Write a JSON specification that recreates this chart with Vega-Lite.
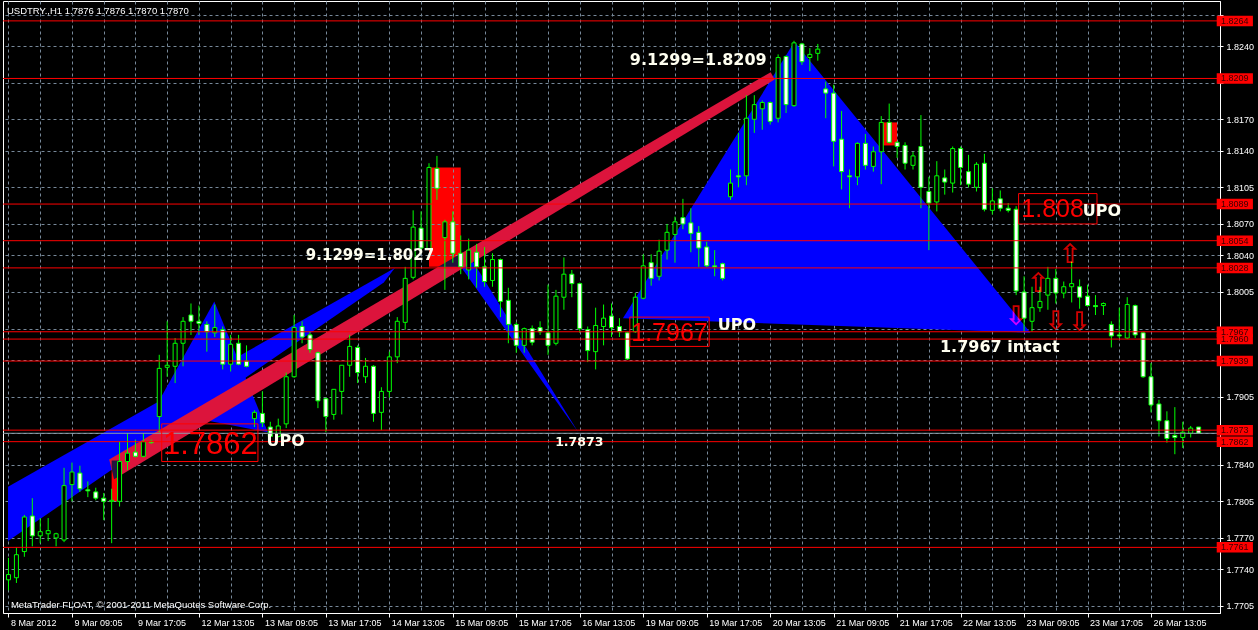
{
  "$schema": "https://vega.github.io/schema/vega-lite/v6.json",
  "width": 1217,
  "height": 612,
  "autosize": {"type": "none"},
  "padding": {"left": 3, "top": 1, "right": 38, "bottom": 17},
  "background": "black",
  "title": {"text": "USDTRY.,H1  1.7876 1.7876 1.7870 1.7870", "anchor": "start", "frame": "group", "offset": -14, "dx": 4, "color": "white", "font": "Liberation Sans", "fontSize": 9.5, "fontWeight": "normal"},
  "config": {
    "view": {"stroke": "white", "strokeWidth": 1},
    "axis": {"title": null, "labelFont": "Liberation Sans", "labelFontSize": 9, "labelColor": "white", "tickColor": "white", "domainColor": "white", "gridColor": "#778899", "gridDash": [3, 3], "gridWidth": 1, "labelFlush": false, "labelOverlap": false, "labelBound": false}
  },
  "datasets": {
    "candles": [
      {"i":0,"o":1.7730,"h":1.7751,"l":1.7720,"c":1.7735},
      {"i":1,"o":1.7732,"h":1.7761,"l":1.7727,"c":1.7754},
      {"i":2,"o":1.7757,"h":1.7792,"l":1.7752,"c":1.7790},
      {"i":3,"o":1.7791,"h":1.7808,"l":1.7762,"c":1.7772},
      {"i":4,"o":1.7772,"h":1.7789,"l":1.7765,"c":1.7776},
      {"i":5,"o":1.7774,"h":1.7789,"l":1.7767,"c":1.7777},
      {"i":6,"o":1.7770,"h":1.7775,"l":1.7762,"c":1.7774},
      {"i":7,"o":1.7768,"h":1.7837,"l":1.7766,"c":1.7820},
      {"i":8,"o":1.7821,"h":1.7842,"l":1.7805,"c":1.7833},
      {"i":9,"o":1.7832,"h":1.7839,"l":1.7814,"c":1.7817},
      {"i":10,"o":1.7816,"h":1.7824,"l":1.7809,"c":1.7815},
      {"i":11,"o":1.7814,"h":1.7818,"l":1.7806,"c":1.7808},
      {"i":12,"o":1.7808,"h":1.7813,"l":1.7787,"c":1.7805},
      {"i":13,"o":1.7805,"h":1.7817,"l":1.7765,"c":1.7806},
      {"i":14,"o":1.7805,"h":1.7862,"l":1.7800,"c":1.7843},
      {"i":15,"o":1.7843,"h":1.7870,"l":1.7835,"c":1.7851},
      {"i":16,"o":1.7852,"h":1.7864,"l":1.7847,"c":1.7848},
      {"i":17,"o":1.7848,"h":1.7870,"l":1.7847,"c":1.7862},
      {"i":18,"o":1.7862,"h":1.7864,"l":1.7860,"c":1.7861},
      {"i":19,"o":1.7886,"h":1.7945,"l":1.7871,"c":1.7932},
      {"i":20,"o":1.7933,"h":1.7977,"l":1.7924,"c":1.7935},
      {"i":21,"o":1.7934,"h":1.7961,"l":1.7918,"c":1.7956},
      {"i":22,"o":1.7956,"h":1.7981,"l":1.7934,"c":1.7977},
      {"i":23,"o":1.7983,"h":1.7994,"l":1.7964,"c":1.7977},
      {"i":24,"o":1.7977,"h":1.7992,"l":1.7964,"c":1.7975},
      {"i":25,"o":1.7974,"h":1.7977,"l":1.7948,"c":1.7967},
      {"i":26,"o":1.7966,"h":1.7993,"l":1.7962,"c":1.7971},
      {"i":27,"o":1.7969,"h":1.7972,"l":1.7931,"c":1.7936},
      {"i":28,"o":1.7936,"h":1.7964,"l":1.7929,"c":1.7955},
      {"i":29,"o":1.7956,"h":1.7964,"l":1.7935,"c":1.7936},
      {"i":30,"o":1.7939,"h":1.7954,"l":1.7933,"c":1.7934},
      {"i":31,"o":1.7884,"h":1.7892,"l":1.7876,"c":1.7890},
      {"i":32,"o":1.7889,"h":1.7910,"l":1.7876,"c":1.7880},
      {"i":33,"o":1.7876,"h":1.7881,"l":1.7864,"c":1.7867},
      {"i":34,"o":1.7867,"h":1.7884,"l":1.7866,"c":1.7877},
      {"i":35,"o":1.7879,"h":1.7928,"l":1.7875,"c":1.7924},
      {"i":36,"o":1.7924,"h":1.7983,"l":1.7923,"c":1.7971},
      {"i":37,"o":1.7972,"h":1.7977,"l":1.7956,"c":1.7962},
      {"i":38,"o":1.7964,"h":1.7967,"l":1.7947,"c":1.7950},
      {"i":39,"o":1.7947,"h":1.7948,"l":1.7894,"c":1.7901},
      {"i":40,"o":1.7903,"h":1.7904,"l":1.7871,"c":1.7886},
      {"i":41,"o":1.7888,"h":1.7912,"l":1.7883,"c":1.7912},
      {"i":42,"o":1.7910,"h":1.7935,"l":1.7888,"c":1.7935},
      {"i":43,"o":1.7935,"h":1.7964,"l":1.7924,"c":1.7953},
      {"i":44,"o":1.7952,"h":1.7954,"l":1.7918,"c":1.7928},
      {"i":45,"o":1.7924,"h":1.7942,"l":1.7918,"c":1.7934},
      {"i":46,"o":1.7934,"h":1.7935,"l":1.7881,"c":1.7889},
      {"i":47,"o":1.7890,"h":1.7914,"l":1.7873,"c":1.7910},
      {"i":48,"o":1.7910,"h":1.7948,"l":1.7904,"c":1.7943},
      {"i":49,"o":1.7943,"h":1.7981,"l":1.7937,"c":1.7977},
      {"i":50,"o":1.7976,"h":1.8029,"l":1.7969,"c":1.8018},
      {"i":51,"o":1.8019,"h":1.8083,"l":1.8017,"c":1.8067},
      {"i":52,"o":1.8066,"h":1.8082,"l":1.8043,"c":1.8047},
      {"i":53,"o":1.8046,"h":1.8128,"l":1.8045,"c":1.8124},
      {"i":54,"o":1.8123,"h":1.8135,"l":1.8093,"c":1.8104},
      {"i":55,"o":1.8057,"h":1.8074,"l":1.8007,"c":1.8072},
      {"i":56,"o":1.8072,"h":1.8082,"l":1.8033,"c":1.8042},
      {"i":57,"o":1.8042,"h":1.8059,"l":1.8022,"c":1.8029},
      {"i":58,"o":1.8026,"h":1.8056,"l":1.8017,"c":1.8045},
      {"i":59,"o":1.8043,"h":1.8051,"l":1.8009,"c":1.8029},
      {"i":60,"o":1.8029,"h":1.8048,"l":1.8010,"c":1.8015},
      {"i":61,"o":1.8016,"h":1.8042,"l":1.8010,"c":1.8036},
      {"i":62,"o":1.8036,"h":1.8037,"l":1.7981,"c":1.7996},
      {"i":63,"o":1.7997,"h":1.8009,"l":1.7956,"c":1.7974},
      {"i":64,"o":1.7974,"h":1.7976,"l":1.7947,"c":1.7954},
      {"i":65,"o":1.7954,"h":1.7971,"l":1.7947,"c":1.7970},
      {"i":66,"o":1.7970,"h":1.7973,"l":1.7954,"c":1.7957},
      {"i":67,"o":1.7971,"h":1.7977,"l":1.7964,"c":1.7967},
      {"i":68,"o":1.7966,"h":1.8012,"l":1.7945,"c":1.7954},
      {"i":69,"o":1.7956,"h":1.8007,"l":1.7954,"c":1.8001},
      {"i":70,"o":1.8000,"h":1.8038,"l":1.7988,"c":1.8022},
      {"i":71,"o":1.8022,"h":1.8026,"l":1.8000,"c":1.8013},
      {"i":72,"o":1.8013,"h":1.8014,"l":1.7966,"c":1.7970},
      {"i":73,"o":1.7969,"h":1.7972,"l":1.7938,"c":1.7949},
      {"i":74,"o":1.7948,"h":1.7990,"l":1.7931,"c":1.7973},
      {"i":75,"o":1.7972,"h":1.7993,"l":1.7954,"c":1.7980},
      {"i":76,"o":1.7982,"h":1.7994,"l":1.7962,"c":1.7971},
      {"i":77,"o":1.7972,"h":1.7980,"l":1.7962,"c":1.7967},
      {"i":78,"o":1.7966,"h":1.7967,"l":1.7940,"c":1.7941},
      {"i":79,"o":1.7967,"h":1.8004,"l":1.7966,"c":1.8000},
      {"i":80,"o":1.7999,"h":1.8041,"l":1.7998,"c":1.8030},
      {"i":81,"o":1.8033,"h":1.8041,"l":1.8011,"c":1.8018},
      {"i":82,"o":1.8020,"h":1.8055,"l":1.8016,"c":1.8044},
      {"i":83,"o":1.8045,"h":1.8070,"l":1.8036,"c":1.8062},
      {"i":84,"o":1.8060,"h":1.8077,"l":1.8033,"c":1.8072},
      {"i":85,"o":1.8076,"h":1.8094,"l":1.8065,"c":1.8070},
      {"i":86,"o":1.8071,"h":1.8085,"l":1.8043,"c":1.8061},
      {"i":87,"o":1.8062,"h":1.8068,"l":1.8029,"c":1.8047},
      {"i":88,"o":1.8048,"h":1.8053,"l":1.8029,"c":1.8030},
      {"i":89,"o":1.8030,"h":1.8045,"l":1.8020,"c":1.8029},
      {"i":90,"o":1.8032,"h":1.8033,"l":1.8016,"c":1.8018},
      {"i":91,"o":1.8096,"h":1.8122,"l":1.8093,"c":1.8109},
      {"i":92,"o":1.8116,"h":1.8157,"l":1.8105,"c":1.8115},
      {"i":93,"o":1.8116,"h":1.8193,"l":1.8107,"c":1.8171},
      {"i":94,"o":1.8170,"h":1.8193,"l":1.8157,"c":1.8184},
      {"i":95,"o":1.8180,"h":1.8188,"l":1.8160,"c":1.8186},
      {"i":96,"o":1.8186,"h":1.8187,"l":1.8165,"c":1.8168},
      {"i":97,"o":1.8171,"h":1.8232,"l":1.8167,"c":1.8229},
      {"i":98,"o":1.8230,"h":1.8231,"l":1.8176,"c":1.8184},
      {"i":99,"o":1.8183,"h":1.8245,"l":1.8182,"c":1.8243},
      {"i":100,"o":1.8242,"h":1.8243,"l":1.8222,"c":1.8225},
      {"i":101,"o":1.8229,"h":1.8238,"l":1.8216,"c":1.8232},
      {"i":102,"o":1.8233,"h":1.8242,"l":1.8226,"c":1.8237},
      {"i":103,"o":1.8199,"h":1.8206,"l":1.8171,"c":1.8195},
      {"i":104,"o":1.8195,"h":1.8203,"l":1.8125,"c":1.8149},
      {"i":105,"o":1.8151,"h":1.8178,"l":1.8103,"c":1.8120},
      {"i":106,"o":1.8116,"h":1.8122,"l":1.8085,"c":1.8115},
      {"i":107,"o":1.8115,"h":1.8148,"l":1.8107,"c":1.8147},
      {"i":108,"o":1.8147,"h":1.8156,"l":1.8122,"c":1.8126},
      {"i":109,"o":1.8125,"h":1.8144,"l":1.8120,"c":1.8139},
      {"i":110,"o":1.8139,"h":1.8173,"l":1.8108,"c":1.8167},
      {"i":111,"o":1.8167,"h":1.8185,"l":1.8147,"c":1.8148},
      {"i":112,"o":1.8148,"h":1.8149,"l":1.8133,"c":1.8144},
      {"i":113,"o":1.8145,"h":1.8148,"l":1.8122,"c":1.8128},
      {"i":114,"o":1.8126,"h":1.8139,"l":1.8122,"c":1.8135},
      {"i":115,"o":1.8144,"h":1.8174,"l":1.8085,"c":1.8105},
      {"i":116,"o":1.8101,"h":1.8115,"l":1.8045,"c":1.8090},
      {"i":117,"o":1.8091,"h":1.8130,"l":1.8082,"c":1.8116},
      {"i":118,"o":1.8114,"h":1.8122,"l":1.8098,"c":1.8110},
      {"i":119,"o":1.8109,"h":1.8144,"l":1.8100,"c":1.8142},
      {"i":120,"o":1.8142,"h":1.8144,"l":1.8107,"c":1.8124},
      {"i":121,"o":1.8120,"h":1.8136,"l":1.8105,"c":1.8108},
      {"i":122,"o":1.8105,"h":1.8129,"l":1.8101,"c":1.8127},
      {"i":123,"o":1.8128,"h":1.8137,"l":1.8082,"c":1.8084},
      {"i":124,"o":1.8083,"h":1.8104,"l":1.8079,"c":1.8092},
      {"i":125,"o":1.8094,"h":1.8102,"l":1.8082,"c":1.8085},
      {"i":126,"o":1.8085,"h":1.8090,"l":1.8081,"c":1.8083},
      {"i":127,"o":1.8084,"h":1.8087,"l":1.8002,"c":1.8006},
      {"i":128,"o":1.8005,"h":1.8020,"l":1.7967,"c":1.7980},
      {"i":129,"o":1.7977,"h":1.8010,"l":1.7967,"c":1.7990},
      {"i":130,"o":1.7990,"h":1.8010,"l":1.7986,"c":1.7996},
      {"i":131,"o":1.8002,"h":1.8029,"l":1.7988,"c":1.8018},
      {"i":132,"o":1.8018,"h":1.8027,"l":1.7994,"c":1.8004},
      {"i":133,"o":1.8004,"h":1.8015,"l":1.7999,"c":1.8010},
      {"i":134,"o":1.8010,"h":1.8034,"l":1.7995,"c":1.8013},
      {"i":135,"o":1.8010,"h":1.8017,"l":1.7989,"c":1.8000},
      {"i":136,"o":1.8001,"h":1.8012,"l":1.7991,"c":1.7992},
      {"i":137,"o":1.7992,"h":1.8002,"l":1.7983,"c":1.7991},
      {"i":138,"o":1.7992,"h":1.7995,"l":1.7983,"c":1.7994},
      {"i":139,"o":1.7974,"h":1.7977,"l":1.7952,"c":1.7963},
      {"i":140,"o":1.7964,"h":1.7990,"l":1.7961,"c":1.7963},
      {"i":141,"o":1.7961,"h":1.8000,"l":1.7960,"c":1.7993},
      {"i":142,"o":1.7992,"h":1.7993,"l":1.7961,"c":1.7964},
      {"i":143,"o":1.7966,"h":1.7967,"l":1.7923,"c":1.7924},
      {"i":144,"o":1.7924,"h":1.7937,"l":1.7890,"c":1.7897},
      {"i":145,"o":1.7898,"h":1.7902,"l":1.7867,"c":1.7882},
      {"i":146,"o":1.7882,"h":1.7891,"l":1.7861,"c":1.7865},
      {"i":147,"o":1.7868,"h":1.7895,"l":1.7850,"c":1.7866},
      {"i":148,"o":1.7866,"h":1.7881,"l":1.7856,"c":1.7871},
      {"i":149,"o":1.7870,"h":1.7877,"l":1.7866,"c":1.7875},
      {"i":150,"o":1.7876,"h":1.7876,"l":1.7870,"c":1.7870}
    ],
    "blues": [
      {"s":"A1","v":0,"i":-0.06,"p":1.7819},{"s":"A1","v":1,"i":48.69,"p":1.8028},{"s":"A1","v":2,"i":47.3,"p":1.8014},{"s":"A1","v":3,"i":-0.06,"p":1.7767},
      {"s":"A2","v":0,"i":18.31,"p":1.7892},{"s":"A2","v":1,"i":25.94,"p":1.7996},{"s":"A2","v":2,"i":32.69,"p":1.7871},
      {"s":"B","v":0,"i":56.56,"p":1.8034},{"s":"B","v":1,"i":58.56,"p":1.8034},{"s":"B","v":2,"i":71.81,"p":1.7871},
      {"s":"C","v":0,"i":77.44,"p":1.7980},{"s":"C","v":1,"i":99.06,"p":1.8244},{"s":"C","v":2,"i":128.81,"p":1.7966}
    ],
    "crimson": [
      {"s":"D","v":0,"i":12.69,"p":1.7845},{"s":"D","v":1,"i":96.06,"p":1.8215},{"s":"D","v":2,"i":96.56,"p":1.8208},{"s":"D","v":3,"i":13.31,"p":1.7826}
    ],
    "zones": [
      {"i1":13,"i2":14,"p1":1.7844,"p2":1.7805},
      {"i1":53,"i2":57,"p1":1.8124,"p2":1.8029},
      {"i1":110,"i2":112,"p1":1.8167,"p2":1.8145}
    ],
    "levels": [
      {"p":1.8264},{"p":1.8209},{"p":1.8089},{"p":1.8054},{"p":1.8028},{"p":1.7967},{"p":1.7960},{"p":1.7939},{"p":1.7873},{"p":1.7862},{"p":1.7761}
    ],
    "boxes": [
      {"i1":19.31,"i2":31.44,"p1":1.7879,"p2":1.7843},
      {"i1":78.31,"i2":88.31,"p1":1.7981,"p2":1.7953},
      {"i1":127.31,"i2":137.19,"p1":1.8099,"p2":1.8070}
    ],
    "redtext": [
      {"t":"1.7862","i":25.44,"p":1.7859,"k":"L"},
      {"t":"1.7967","i":83.31,"p":1.7966,"k":"M"},
      {"t":"1.808","i":131.6,"p":1.8084,"k":"M"}
    ],
    "notes": [
      {"t":"9.1299=1.8209","i":86.94,"p":1.8227,"k":"b"},
      {"t":"9.1299=1.8027","i":45.56,"p":1.8040,"k":"m"},
      {"t":"UPO","i":34.94,"p":1.7863,"k":"b"},
      {"t":"1.7873","i":71.94,"p":1.7862,"k":"s"},
      {"t":"UPO","i":91.81,"p":1.7973,"k":"b"},
      {"t":"1.7967 intact","i":124.94,"p":1.7952,"k":"b"},
      {"t":"UPO","i":137.8,"p":1.8082,"k":"b"}
    ],
    "arrows": [
      {"d":"down","i":127.0,"p":1.7981},
      {"d":"up","i":129.8,"p":1.8013},
      {"d":"down","i":132.0,"p":1.7976},
      {"d":"up","i":133.8,"p":1.8040},
      {"d":"down","i":135.0,"p":1.7975}
    ],
    "footer": [
      {"t":"MetaTrader FLOAT, © 2001-2011 MetaQuotes Software Corp.","i":0.31,"p":1.7701}
    ]
  },
  "encoding": {
    "x": {"type": "quantitative", "scale": {"domain": [-0.0625, 152.0625], "nice": false, "zero": false},
      "axis": {"orient": "bottom", "values": [0,4,8,12,16,20,24,28,32,36,40,44,48,52,56,60,64,68,72,76,80,84,88,92,96,100,104,108,112,116,120,124,128,132,136,140,144,148],
        "grid": true, "tickSize": 4, "labelPadding": 1, "labelAlign": "left", "labelBaseline": "top", "labelOffset": 2,
        "tickOpacity": {"condition": {"test": "datum.value % 8 === 0", "value": 1}, "value": 0},
        "labelExpr": "datum.value % 8 === 0 ? ['8 Mar 2012','9 Mar 09:05','9 Mar 17:05','12 Mar 13:05','13 Mar 09:05','13 Mar 17:05','14 Mar 13:05','15 Mar 09:05','15 Mar 17:05','16 Mar 13:05','19 Mar 09:05','19 Mar 17:05','20 Mar 13:05','21 Mar 09:05','21 Mar 17:05','22 Mar 13:05','23 Mar 09:05','23 Mar 17:05','26 Mar 13:05'][datum.value / 8] : ''"}},
    "y": {"type": "quantitative", "scale": {"domain": [1.76983, 1.8283], "nice": false, "zero": false},
      "axis": {"orient": "right", "values": [1.8270,1.8240,1.8205,1.8170,1.8140,1.8105,1.8070,1.8040,1.8005,1.7970,1.7940,1.7905,1.7870,1.7840,1.7805,1.7770,1.7740,1.7705],
        "format": ".4f", "grid": true, "tickSize": 3, "labelPadding": 3,
        "labelExpr": "indexof(['1.8270','1.8205','1.7970','1.7940','1.7870'], datum.label) >= 0 ? '' : datum.label"}}
  },
  "layer": [
    {"data": {"name": "blues"},
     "mark": {"type": "line", "filled": true, "color": "#0000FF", "interpolate": "linear-closed", "blend": "difference", "clip": true},
     "encoding": {"x": {"field": "i"}, "y": {"field": "p"}, "order": {"field": "v"}, "detail": {"field": "s"}}},
    {"data": {"name": "crimson"},
     "mark": {"type": "line", "filled": true, "color": "#DC143C", "interpolate": "linear-closed", "blend": "difference", "clip": true},
     "encoding": {"x": {"field": "i"}, "y": {"field": "p"}, "order": {"field": "v"}, "detail": {"field": "s"}}},
    {"data": {"name": "zones"},
     "mark": {"type": "rect", "color": "#FF0000", "blend": "difference"},
     "encoding": {"x": {"field": "i1"}, "x2": {"field": "i2"}, "y": {"field": "p1"}, "y2": {"field": "p2"}}},
    {"data": {"name": "candles"},
     "mark": {"type": "rule", "color": "#00FF00", "strokeWidth": 1},
     "encoding": {"x": {"field": "i"}, "y": {"field": "h"}, "y2": {"field": "l"}}},
    {"data": {"name": "candles"},
     "mark": {"type": "bar", "size": 4, "stroke": "#00FF00", "strokeWidth": 1},
     "encoding": {"x": {"field": "i"}, "y": {"field": "o"}, "y2": {"field": "c"},
       "fill": {"condition": {"test": "datum.c < datum.o", "value": "#FFFFFF"}, "value": "#000000"}}},
    {"data": {"values": [{"p": 1.7870}]},
     "mark": {"type": "rule", "color": "#8F9CA8", "strokeWidth": 1},
     "encoding": {"y": {"field": "p"}}},
    {"data": {"name": "levels"},
     "mark": {"type": "rule", "color": "#FF0000", "strokeWidth": 1},
     "encoding": {"y": {"field": "p"}}},
    {"data": {"name": "boxes"},
     "mark": {"type": "rect", "fill": null, "fillOpacity": 0, "stroke": "#FF0000", "strokeWidth": 1},
     "encoding": {"x": {"field": "i1"}, "x2": {"field": "i2"}, "y": {"field": "p1"}, "y2": {"field": "p2"}}},
    {"data": {"name": "redtext"}, "transform": [{"filter": "datum.k === 'L'"}],
     "mark": {"type": "text", "color": "#FF0000", "font": "Liberation Sans", "fontSize": 31, "align": "center", "baseline": "middle"},
     "encoding": {"x": {"field": "i"}, "y": {"field": "p"}, "text": {"field": "t"}}},
    {"data": {"name": "redtext"}, "transform": [{"filter": "datum.k === 'M'"}],
     "mark": {"type": "text", "color": "#FF0000", "font": "Liberation Sans", "fontSize": 25, "align": "center", "baseline": "middle"},
     "encoding": {"x": {"field": "i"}, "y": {"field": "p"}, "text": {"field": "t"}}},
    {"data": {"name": "notes"}, "transform": [{"filter": "datum.k === 'b'"}],
     "mark": {"type": "text", "color": "#FFFFF0", "font": "DejaVu Sans", "fontWeight": "bold", "fontSize": 16, "align": "center", "baseline": "middle"},
     "encoding": {"x": {"field": "i"}, "y": {"field": "p"}, "text": {"field": "t"}}},
    {"data": {"name": "notes"}, "transform": [{"filter": "datum.k === 'm'"}],
     "mark": {"type": "text", "color": "#FFFFF0", "font": "DejaVu Sans", "fontWeight": "bold", "fontSize": 15, "align": "center", "baseline": "middle"},
     "encoding": {"x": {"field": "i"}, "y": {"field": "p"}, "text": {"field": "t"}}},
    {"data": {"name": "notes"}, "transform": [{"filter": "datum.k === 's'"}],
     "mark": {"type": "text", "color": "#FFFFF0", "font": "DejaVu Sans", "fontWeight": "bold", "fontSize": 12.5, "align": "center", "baseline": "middle"},
     "encoding": {"x": {"field": "i"}, "y": {"field": "p"}, "text": {"field": "t"}}},
    {"data": {"name": "arrows"}, "transform": [{"filter": "datum.d === 'up'"}],
     "mark": {"type": "text", "text": "⇧", "color": "#D00000", "font": "DejaVu Sans", "fontWeight": "bold", "fontSize": 27, "align": "center", "baseline": "middle", "blend": "difference"},
     "encoding": {"x": {"field": "i"}, "y": {"field": "p"}}},
    {"data": {"name": "arrows"}, "transform": [{"filter": "datum.d === 'down'"}],
     "mark": {"type": "text", "text": "⇩", "color": "#D00000", "font": "DejaVu Sans", "fontWeight": "bold", "fontSize": 27, "align": "center", "baseline": "middle", "blend": "difference"},
     "encoding": {"x": {"field": "i"}, "y": {"field": "p"}}},
    {"data": {"name": "levels"},
     "mark": {"type": "point", "shape": "M-1,-0.29H1V0.29H-1Z", "size": 1310, "filled": true, "color": "#FF0000", "opacity": 1, "strokeWidth": 0},
     "encoding": {"x": {"datum": 154.56}, "y": {"field": "p"}}},
    {"data": {"name": "levels"},
     "mark": {"type": "text", "color": "#3A0000", "font": "Liberation Sans", "fontSize": 9, "align": "center", "baseline": "middle"},
     "encoding": {"x": {"datum": 154.56}, "y": {"field": "p"}, "text": {"field": "p", "format": ".4f"}}},
    {"data": {"name": "footer"},
     "mark": {"type": "text", "color": "#FFFFFF", "font": "Liberation Sans", "fontSize": 9.5, "align": "left", "baseline": "bottom"},
     "encoding": {"x": {"field": "i"}, "y": {"field": "p"}, "text": {"field": "t"}}}
  ]
}
